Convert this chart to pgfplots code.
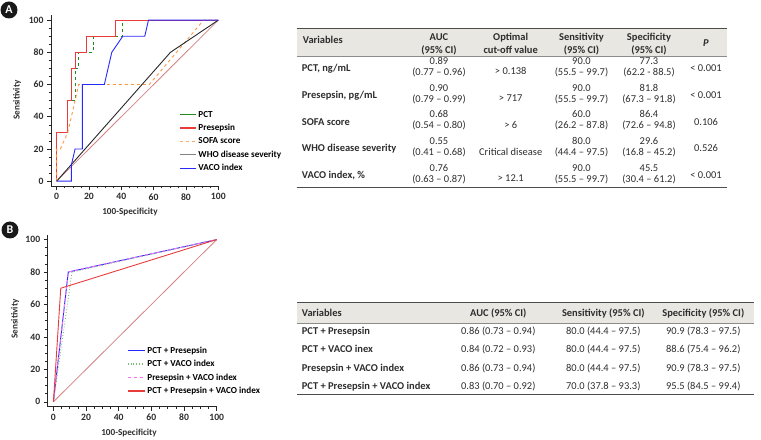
\documentclass[border=0pt]{standalone}
\usepackage{fontspec}
\setmainfont{Carlito}
\usepackage{pgfplots}
\pgfplotsset{compat=1.18}
\definecolor{txt}{RGB}{45,45,45}
\definecolor{hdr}{RGB}{232,231,226}
\definecolor{cPCT}{RGB}{30,140,30}
\definecolor{cPre}{RGB}{232,60,60}
\definecolor{cSOFA}{RGB}{255,150,60}
\definecolor{cSOFAleg}{RGB}{250,170,100}
\definecolor{cWHO}{RGB}{40,40,40}
\definecolor{cWHOleg}{RGB}{130,130,130}
\definecolor{cVACO}{RGB}{40,40,250}
\definecolor{cDiag}{RGB}{210,130,130}
\definecolor{cMag}{RGB}{255,110,255}
\definecolor{cGrn}{RGB}{120,185,120}
\pgfplotsset{
 rocaxis/.style={
  scale only axis, axis x line=bottom, axis y line=left,
  axis line style={-, line width=0.8bp, color=black!85},
  xmin=-3.5, xmax=100, ymin=-3, ymax=103,
  xtick={0,20,...,100}, ytick={0,20,...,100},
  minor x tick num=3, minor y tick num=3,
  tick align=outside, major tick length=4bp, minor tick length=2.5bp,
  tick style={line width=0.6bp, black!85},
  ticklabel style={font=\fontsize{9.7}{11}\selectfont\bfseries, text=txt},
  /pgf/number format/assume math mode=true,
  clip=false,
  legend cell align=left,
  legend style={draw=none, fill=none, font=\fontsize{9.2}{10}\selectfont\bfseries, anchor=north west, row sep=1.6bp, inner sep=0pt},
 }
}
\tikzset{
 tc/.style={font=\fontsize{10.5}{12}\selectfont, text=txt, inner sep=0pt, anchor=base},
 tl/.style={font=\fontsize{10.5}{12}\selectfont\bfseries, text=txt, inner sep=0pt, anchor=base west},
 th/.style={font=\fontsize{10.5}{12}\selectfont\bfseries, text=txt, inner sep=0pt, anchor=base},
}
\begin{document}
\begin{tikzpicture}
\path[use as bounding box] (0bp,0bp) rectangle (761bp,440bp);

% ---------------- Panel A ROC ----------------
\begin{axis}[rocaxis, at={(51bp,254bp)}, anchor=south west, width=167.3bp, height=170.7bp,
  legend style={at={(0.765,0.452)}},
  legend image code/.code={\draw[#1, line width=1.3bp] (0bp,0bp) -- (16bp,0bp);}]
\addplot[cDiag, line width=0.8bp, forget plot] coordinates {(0,0) (100,100)};
\addplot[draw=cPCT, line width=0.9bp, dashed, legend image post style={solid, draw=cPCT}] coordinates {
 (0,0) (0,30) (6.8,30) (6.8,50) (11.4,50) (11.4,70) (13.6,70) (13.6,80) (22.7,80) (22.7,90) (40.9,90) (40.9,100) (100,100)};
\addplot[draw=cPre, line width=1.1bp, legend image post style={draw=cPre}] coordinates {
 (0,0) (0,30) (6.8,30) (6.8,50) (9.1,50) (9.1,70) (11.4,70) (11.4,80) (18.2,80) (18.2,90) (36.4,90) (36.4,100) (100,100)};
\addplot[draw=cSOFA, line width=0.9bp, dashed, legend image post style={draw=cSOFAleg}] coordinates {
 (0,0) (0,20) (2.3,20) (6.8,30) (11.4,50) (13.6,60) (57.3,60) (90.9,100) (100,100)};
\addplot[draw=cWHO, line width=0.9bp, legend image post style={draw=cWHOleg}] coordinates {(0,0) (70.4,80) (100,100)};
\addplot[draw=cVACO, line width=0.9bp, legend image post style={draw=cVACO}] coordinates {
 (0,0) (9.1,0) (9.1,10) (11.4,20) (15.9,20) (15.9,60) (29.5,60) (34.1,80) (40.9,90) (54.5,90) (56.8,100) (100,100)};
\legend{PCT, Presepsin, SOFA score, WHO disease severity, VACO index}
\end{axis}

% ---------------- Panel B ROC ----------------
\begin{axis}[rocaxis, at={(47.7bp,33.3bp)}, anchor=south west, width=169bp, height=172bp,
  legend style={at={(0.467,0.362)}},
  legend image code/.code={\draw[#1, line width=1.6bp] (0bp,0bp) -- (17bp,0bp);}]
\addplot[cDiag, line width=0.8bp, forget plot] coordinates {(0,0) (100,100)};
\addplot[draw=cVACO, line width=0.9bp, legend image post style={draw=cVACO}] coordinates {(0,0) (9.1,80) (100,100)};
\addplot[draw=cGrn, line width=0.9bp, dotted, legend image post style={draw=cGrn}] coordinates {(0,0) (11.4,80) (100,100)};
\addplot[draw=cMag, line width=0.9bp, dashed, legend image post style={draw=cMag}] coordinates {(0,0) (9.1,80) (100,100)};
\addplot[draw=cPre, line width=0.9bp, legend image post style={draw=cPre}] coordinates {(0,0) (4.5,70) (100,100)};
\legend{PCT + Presepsin, PCT + VACO index, Presepsin + VACO index, PCT + Presepsin + VACO index}
\end{axis}

% axis titles
\node[font=\fontsize{9.2}{10}\selectfont\bfseries, text=txt, rotate=90] at (17bp,340bp) {Sensitivity};
\node[font=\fontsize{9.2}{10}\selectfont\bfseries, text=txt] at (130bp,228.3bp) {100-Specificity};
\node[font=\fontsize{9.2}{10}\selectfont\bfseries, text=txt, rotate=90] at (15bp,121bp) {Sensitivity};
\node[font=\fontsize{9.2}{10}\selectfont\bfseries, text=txt] at (129bp,7.3bp) {100-Specificity};

% panel letters
\fill[black!90] (9bp,430bp) circle (8.5bp);
\node[text=white, font=\fontsize{12}{12}\selectfont\bfseries] at (9bp,430bp) {A};
\fill[black!90] (10bp,210bp) circle (8.5bp);
\node[text=white, font=\fontsize{12}{12}\selectfont\bfseries] at (10bp,210bp) {B};

% ---------------- Table A ----------------
\fill[hdr] (296.7bp,383.3bp) rectangle (727.3bp,411bp);
\draw[line width=1bp, black!70] (296.7bp,411bp) -- (727.3bp,411bp);
\draw[line width=0.5bp, black!45] (296.7bp,383.3bp) -- (727.3bp,383.3bp);
\draw[line width=1bp, black!70] (296.7bp,252.3bp) -- (727.3bp,252.3bp);
\node[tl] at (302.7bp,396bp) {Variables};
\node[th] at (439bp,399.8bp) {AUC};
\node[th] at (439bp,386.5bp) {(95\% CI)};
\node[th] at (510.7bp,399.8bp) {Optimal};
\node[th] at (510.7bp,386.5bp) {cut-off value};
\node[th] at (581.5bp,399.8bp) {Sensitivity};
\node[th] at (581.5bp,386.5bp) {(95\% CI)};
\node[th] at (649bp,399.8bp) {Specificity};
\node[th] at (649bp,386.5bp) {(95\% CI)};
\node[th] at (706bp,393.2bp) {\itshape P};
% row 1
\node[tl] at (301.7bp,368.2bp) {PCT, ng/mL};
\node[tc] at (439bp,375.5bp) {0.89};
\node[tc] at (439bp,364.5bp) {(0.77 – 0.96)};
\node[tc] at (510.7bp,365bp) {> 0.138};
\node[tc] at (581.5bp,375.5bp) {90.0};
\node[tc] at (581.5bp,364.5bp) {(55.5 – 99.7)};
\node[tc] at (649bp,375.5bp) {77.3};
\node[tc] at (649bp,364.5bp) {(62.2 - 88.5)};
\node[tc] at (706bp,368.2bp) {< 0.001};
% row 2
\node[tl] at (301.7bp,341.5bp) {Presepsin, pg/mL};
\node[tc] at (439bp,348.8bp) {0.90};
\node[tc] at (439bp,337.8bp) {(0.79 – 0.99)};
\node[tc] at (510.7bp,338.3bp) {> 717};
\node[tc] at (581.5bp,348.8bp) {90.0};
\node[tc] at (581.5bp,337.8bp) {(55.5 – 99.7)};
\node[tc] at (649bp,348.8bp) {81.8};
\node[tc] at (649bp,337.8bp) {(67.3 – 91.8)};
\node[tc] at (706bp,341.5bp) {< 0.001};
% row 3
\node[tl] at (301.7bp,314.8bp) {SOFA score};
\node[tc] at (439bp,322.1bp) {0.68};
\node[tc] at (439bp,311.1bp) {(0.54 – 0.80)};
\node[tc] at (510.7bp,311.6bp) {> 6};
\node[tc] at (581.5bp,322.1bp) {60.0};
\node[tc] at (581.5bp,311.1bp) {(26.2 – 87.8)};
\node[tc] at (649bp,322.1bp) {86.4};
\node[tc] at (649bp,311.1bp) {(72.6 – 94.8)};
\node[tc] at (706bp,314.8bp) {0.106};
% row 4
\node[tl] at (301.7bp,288.1bp) {WHO disease severity};
\node[tc] at (439bp,295.4bp) {0.55};
\node[tc] at (439bp,284.4bp) {(0.41 – 0.68)};
\node[tc] at (510.7bp,284.9bp) {Critical disease};
\node[tc] at (581.5bp,295.4bp) {80.0};
\node[tc] at (581.5bp,284.4bp) {(44.4 – 97.5)};
\node[tc] at (649bp,295.4bp) {29.6};
\node[tc] at (649bp,284.4bp) {(16.8 – 45.2)};
\node[tc] at (706bp,288.1bp) {0.526};
% row 5
\node[tl] at (301.7bp,261.4bp) {VACO index, \%};
\node[tc] at (439bp,268.7bp) {0.76};
\node[tc] at (439bp,257.7bp) {(0.63 – 0.87)};
\node[tc] at (510.7bp,258.2bp) {> 12.1};
\node[tc] at (581.5bp,268.7bp) {90.0};
\node[tc] at (581.5bp,257.7bp) {(55.5 – 99.7)};
\node[tc] at (649bp,268.7bp) {45.5};
\node[tc] at (649bp,257.7bp) {(30.4 – 61.2)};
\node[tc] at (706bp,261.4bp) {< 0.001};

% ---------------- Table B ----------------
\fill[hdr] (297.3bp,116.7bp) rectangle (754bp,137.3bp);
\draw[line width=1bp, black!70] (297.3bp,137.3bp) -- (754bp,137.3bp);
\draw[line width=0.5bp, black!45] (297.3bp,116.7bp) -- (754bp,116.7bp);
\draw[line width=1bp, black!70] (297.3bp,45bp) -- (754bp,45bp);
\node[tl] at (301.7bp,123.8bp) {Variables};
\node[th] at (498.3bp,123.8bp) {AUC (95\% CI)};
\node[th] at (603.3bp,123.8bp) {Sensitivity (95\% CI)};
\node[th] at (703.3bp,123.8bp) {Specificity (95\% CI)};
\node[tl] at (301.7bp,105.8bp) {PCT + Presepsin};
\node[tc] at (498.3bp,105.8bp) {0.86 (0.73 – 0.94)};
\node[tc] at (603.3bp,105.8bp) {80.0 (44.4 – 97.5)};
\node[tc] at (703.3bp,105.8bp) {90.9 (78.3 – 97.5)};
\node[tl] at (301.7bp,87.5bp) {PCT + VACO inex};
\node[tc] at (498.3bp,87.5bp) {0.84 (0.72 – 0.93)};
\node[tc] at (603.3bp,87.5bp) {80.0 (44.4 – 97.5)};
\node[tc] at (703.3bp,87.5bp) {88.6 (75.4 – 96.2)};
\node[tl] at (301.7bp,68.8bp) {Presepsin + VACO index};
\node[tc] at (498.3bp,68.8bp) {0.86 (0.73 – 0.94)};
\node[tc] at (603.3bp,68.8bp) {80.0 (44.4 – 97.5)};
\node[tc] at (703.3bp,68.8bp) {90.9 (78.3 – 97.5)};
\node[tl] at (301.7bp,50.5bp) {PCT + Presepsin + VACO index};
\node[tc] at (498.3bp,50.5bp) {0.83 (0.70 – 0.92)};
\node[tc] at (603.3bp,50.5bp) {70.0 (37.8 – 93.3)};
\node[tc] at (703.3bp,50.5bp) {95.5 (84.5 – 99.4)};
\end{tikzpicture}
\end{document}
